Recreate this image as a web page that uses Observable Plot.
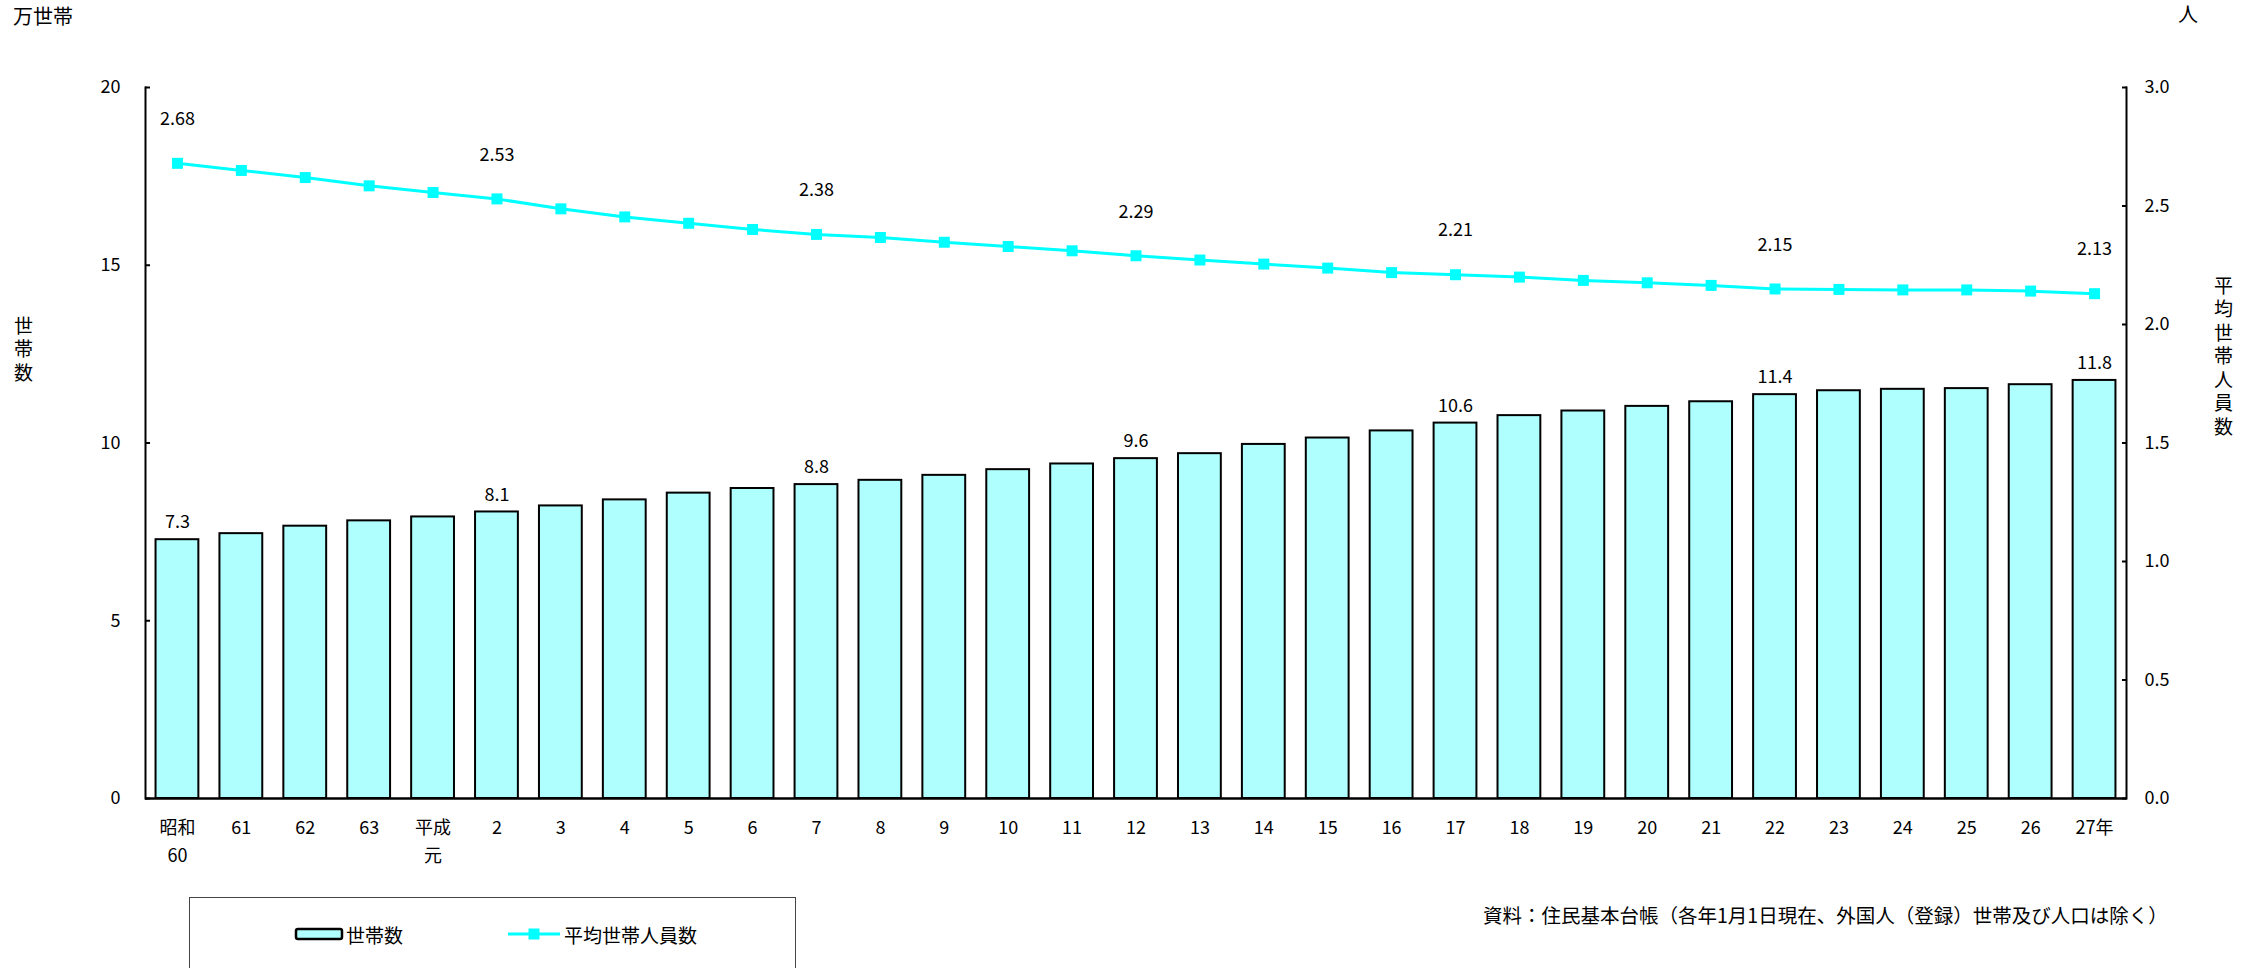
<!DOCTYPE html>
<html><head><meta charset="utf-8">
<script src="https://cdn.jsdelivr.net/npm/d3@7"></script>
<script src="https://cdn.jsdelivr.net/npm/@observablehq/plot@0.6"></script>
<style>
body{margin:0;background:#fff;font-family:"Noto Sans CJK JP","Noto Sans",sans-serif;color:#000}
#wrap{position:relative;width:2257px;height:968px;overflow:hidden;background:#fff}
.t{position:absolute;font-size:19px;line-height:1;white-space:nowrap}
.v{writing-mode:vertical-rl;letter-spacing:4.5px}
#legend{position:absolute;left:189px;top:897px;width:607px;height:100px;border:1px solid #444;box-sizing:border-box}
#legend .item{position:absolute;top:26px;display:flex;align-items:center;font-size:19px;line-height:1}
</style></head><body>
<div id="wrap">
  <div id="chart"></div>
  <div class="t" style="left:13px;top:6px;font-size:20px">万世帯</div>
  <div class="t" style="left:2178px;top:4px;font-size:20px">人</div>
  <div class="t v" style="left:14px;top:316px">世帯数</div>
  <div class="t v" style="left:2214px;top:276px">平均世帯人員数</div>
  <div id="legend">
    <div class="item" style="left:104px">
      <svg width="52" height="20"><rect x="2" y="5" width="46" height="10" rx="2" fill="#b0ffff" stroke="#000" stroke-width="2.5"/></svg>
      <span>世帯数</span>
    </div>
    <div class="item" style="left:318px">
      <svg width="56" height="20"><line x1="0" y1="10" x2="52" y2="10" stroke="#00ffff" stroke-width="3"/><rect x="20.5" y="4.5" width="11" height="11" fill="#00ffff"/></svg>
      <span>平均世帯人員数</span>
    </div>
  </div>
  <div class="t" style="left:1483px;top:905px;font-size:19.5px">資料：住民基本台帳（各年1月1日現在、外国人（登録）世帯及び人口は除く）</div>
</div>
<script>
const years = ["昭和\n60","61","62","63","平成\n元","2","3","4","5","6","7","8","9","10","11","12","13","14","15","16","17","18","19","20","21","22","23","24","25","26","27年"];
const households = [7.28,7.45,7.66,7.81,7.92,8.06,8.23,8.40,8.59,8.72,8.83,8.95,9.09,9.25,9.41,9.56,9.70,9.96,10.14,10.34,10.56,10.77,10.90,11.03,11.16,11.36,11.47,11.51,11.53,11.64,11.76];
const avgSize = [2.68,2.65,2.62,2.585,2.557,2.53,2.488,2.454,2.427,2.401,2.38,2.367,2.347,2.329,2.311,2.29,2.272,2.255,2.238,2.219,2.21,2.20,2.186,2.176,2.165,2.15,2.148,2.146,2.146,2.141,2.13];
const labeledIdx = [0,5,10,15,20,25,30];
const leftTicks = [0,5,10,15,20];
const rightTicks = [0,0.5,1.0,1.5,2.0,2.5,3.0];

const SCALE = 20/3; // right axis 0–3.0 mapped onto left axis 0–20
const rows = years.map((year,i)=>({year, households: households[i], avg: avgSize[i], avgY: avgSize[i]*SCALE, labeled: labeledIdx.includes(i)}));
const labeled = rows.filter(d=>d.labeled);

const plot = Plot.plot({
  width: 2257, height: 880,
  marginTop: 87, marginBottom: 82, marginLeft: 145, marginRight: 131,
  style: {fontFamily: '"Noto Sans CJK JP","Noto Sans",sans-serif', fontSize: "18px", color: "#000", background: "#fff", overflow: "visible"},
  x: {domain: years, paddingInner: 0.33, paddingOuter: 0.165, round: false, label: null},
  y: {domain: [0,20], label: null},
  marks: [
    Plot.barY(rows, {x: "year", y: "households", fill: "#b0ffff", stroke: "#000", strokeWidth: 2}),
    Plot.frame({anchor: "left", strokeWidth: 2}),
    Plot.frame({anchor: "right", strokeWidth: 2}),
    Plot.ruleY([0], {strokeWidth: 2.5}),
    Plot.axisY({ticks: leftTicks, tickSize: 0, tickPadding: 25, label: null, fontSize: 18}),
    Plot.axisY({ticks: leftTicks, tickSize: 5, dx: 5, strokeWidth: 2, tickFormat: () => "", label: null}),
    Plot.axisY({anchor: "right", ticks: rightTicks.map(t=>t*SCALE), tickFormat: d => (d/SCALE).toFixed(1), tickSize: 0, tickPadding: 18, label: null, fontSize: 18}),
    Plot.axisY({anchor: "right", ticks: rightTicks.map(t=>t*SCALE), tickSize: 5, dx: -5, strokeWidth: 2, tickFormat: () => "", label: null}),
    Plot.axisX({tickSize: 0, tickPadding: 16, lineHeight: 1.55, label: null, fontSize: 18}),
    Plot.line(rows, {x: "year", y: "avgY", stroke: "#00ffff", strokeWidth: 3}),
    Plot.dot(rows, {x: "year", y: "avgY", symbol: "square", r: 6.2, fill: "#00ffff", stroke: "none"}),
    Plot.text(labeled, {x: "year", y: "households", text: d => d.households.toFixed(1), dy: -17, fontSize: 18}),
    Plot.text(labeled, {x: "year", y: "avgY", text: d => d.avg.toFixed(2), dy: -44, fontSize: 18})
  ]
});
document.getElementById("chart").appendChild(plot);
</script>
</body></html>
